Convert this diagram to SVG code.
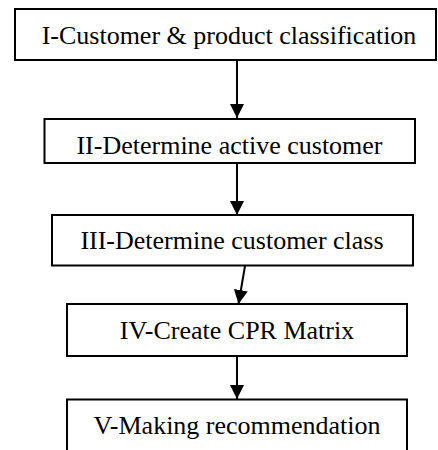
<svg xmlns="http://www.w3.org/2000/svg" width="438" height="450" viewBox="0 0 438 450">
  <defs>
    <marker id="arrow" viewBox="0 0 14 14" refX="14" refY="7" markerWidth="14" markerHeight="14" markerUnits="userSpaceOnUse" orient="auto">
      <path d="M0,0 L14,7 L0,14 Z" fill="#000"/>
    </marker>
    <style>
      .box { fill: #fff; stroke: #000; stroke-width: 2; }
      .label { font-family: "Liberation Serif", "Times New Roman", serif; font-size: 26px; fill: #000; text-anchor: middle; }
      .edge { stroke: #000; stroke-width: 2; fill: none; marker-end: url(#arrow); }
    </style>
  </defs>
  <rect width="438" height="450" fill="#fff"/>

  <g id="connectors">
    <line class="edge" x1="237" y1="60" x2="237" y2="118"/>
    <line class="edge" x1="237" y1="163" x2="237" y2="215"/>
    <line class="edge" x1="245" y1="266" x2="238.5" y2="304"/>
    <line class="edge" x1="237" y1="356" x2="237" y2="399"/>
  </g>

  <g id="step1">
    <rect class="box" x="15" y="9" width="421" height="51"/>
    <text class="label" x="229" y="44">I-Customer &amp; product classification</text>
  </g>
  <g id="step2">
    <rect class="box" x="44.5" y="119" width="370.5" height="44"/>
    <text class="label" x="229.5" y="154">II-Determine active customer</text>
  </g>
  <g id="step3">
    <rect class="box" x="52" y="215" width="361" height="50.5"/>
    <text class="label" x="232" y="249">III-Determine customer class</text>
  </g>
  <g id="step4">
    <rect class="box" x="67" y="304" width="340" height="52"/>
    <text class="label" x="237" y="339">IV-Create CPR Matrix</text>
  </g>
  <g id="step5">
    <rect class="box" x="67" y="399.5" width="340" height="60"/>
    <text class="label" x="237" y="434">V-Making recommendation</text>
  </g>
</svg>
